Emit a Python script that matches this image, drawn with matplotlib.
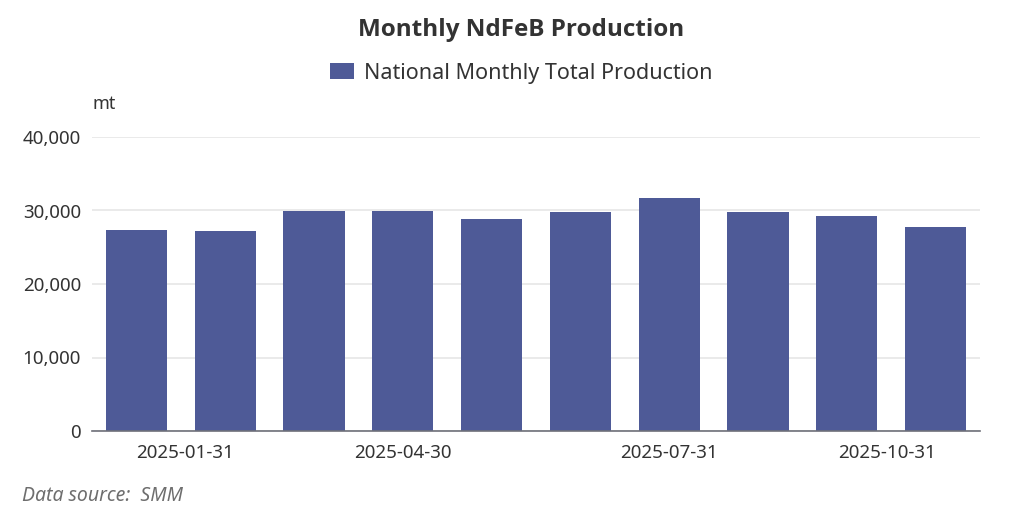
import matplotlib
matplotlib.use("Agg")
import matplotlib.pyplot as plt
from matplotlib.ticker import FuncFormatter

plt.rcParams['font.family'] = ['Noto Sans', 'DejaVu Sans']

# monthly NdFeB production, mt
months = ["2025-01-31", "2025-02-28", "2025-03-31", "2025-04-30", "2025-05-31",
          "2025-06-30", "2025-07-31", "2025-08-31", "2025-09-30", "2025-10-31"]
production = [27280, 27150, 29980, 29920, 28820, 29780, 31720, 29740, 29240, 27700]
shown_ticks = ["2025-01-31", "2025-04-30", "2025-07-31", "2025-10-31"]

bar_color = "#4e5a97"
text_color = "#333333"

fig = plt.figure(figsize=(10.32, 5.18), dpi=100)
ax = fig.add_axes([92/1032, 1 - 431/518, 888/1032, 294/518])

x = list(range(len(months)))
ax.bar(x, production, width=0.69, color=bar_color, zorder=3,
       label="National Monthly Total Production")

ax.set_xlim(-0.5, len(months) - 0.5)
ax.set_ylim(0, 40000)
ax.set_yticks([0, 10000, 20000, 30000, 40000])
ax.yaxis.set_major_formatter(FuncFormatter(lambda v, p: f"{int(v):,}"))
ax.grid(axis="y", color="#e6e6e6", linewidth=1.2, zorder=0)

tick_pos = [months.index(m) for m in shown_ticks]
ax.set_xticks(tick_pos)
ax.set_xticklabels(shown_ticks)
labels = ax.get_xticklabels()
labels[0].set_horizontalalignment("left")
labels[-1].set_horizontalalignment("right")

ax.tick_params(axis="both", length=0, labelsize=13.5, colors=text_color)
ax.tick_params(axis="y", pad=8)
ax.tick_params(axis="x", pad=9)
for s in ["top", "right", "left"]:
    ax.spines[s].set_visible(False)
ax.spines["bottom"].set_color("#6e7079")
ax.spines["bottom"].set_linewidth(1.2)
ax.spines["bottom"].set_zorder(4)

fig.text(0.505, 1 - 30/518, "Monthly NdFeB Production", ha="center", va="center",
         fontsize=17.5, fontweight="bold", color=text_color,
         family=["Open Sans", "DejaVu Sans"])
fig.legend(loc="center", bbox_to_anchor=(0.505, 1 - 73/518), frameon=False,
           fontsize=15.5, handlelength=1.1, handleheight=0.7, handletextpad=0.45,
           labelcolor=text_color)
fig.text(93/1032, 1 - 104/518, "mt", ha="left", va="center", fontsize=13, color=text_color)
fig.text(22/1032, 1 - 496/518, "Data source:  SMM", ha="left", va="center",
         fontsize=14, style="italic", color="#6e6e6e")

fig.savefig("out.png", dpi=100)
